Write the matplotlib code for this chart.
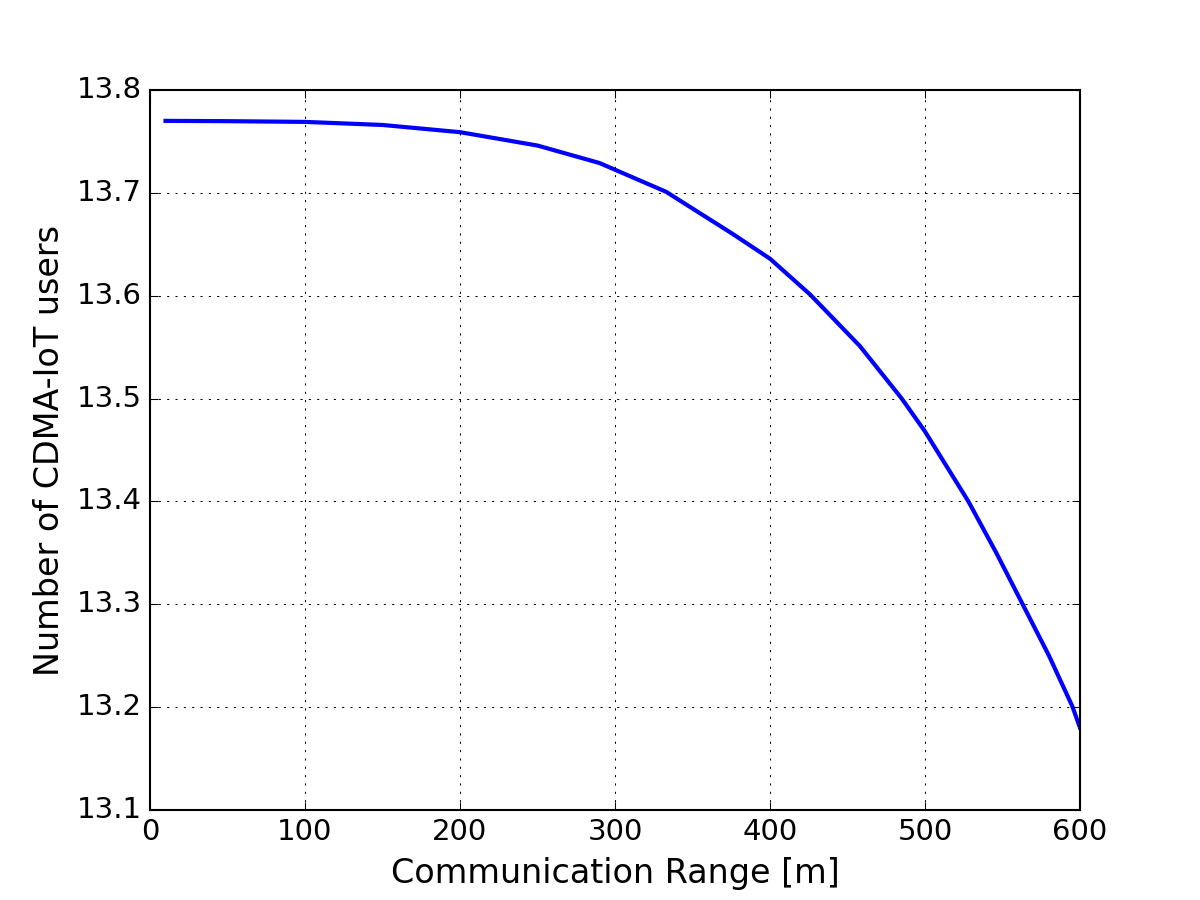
# coding:utf-8
import matplotlib
matplotlib.use('Agg')
import matplotlib.pyplot as plt

# values
comm_range = [10, 50, 100, 150, 200, 250, 290, 333, 376, 400, 426, 458,
              485, 500, 528, 546, 563, 580, 595, 600]
num_users = [13.7700, 13.7697, 13.7690, 13.7660, 13.7590, 13.7460, 13.7290,
             13.7010, 13.6600, 13.6360, 13.6010, 13.5510, 13.5000, 13.4680,
             13.4000, 13.3500, 13.3000, 13.2500, 13.2010, 13.1800]
xticks = [0, 100, 200, 300, 400, 500, 600]
yticks = [13.1, 13.2, 13.3, 13.4, 13.5, 13.6, 13.7, 13.8]

plt.style.use('classic')
plt.rcParams['font.family'] = ['DejaVu Sans']

fig = plt.figure(figsize=(8, 6), dpi=150)
ax = fig.add_subplot(111)
ax.plot(comm_range, num_users, 'b', linewidth=2, solid_joinstyle='round')
ax.set_xlim(0, 600)
ax.set_ylim(13.1, 13.8)
ax.set_xticks(xticks)
ax.set_yticks(yticks)
ax.ticklabel_format(useOffset=False, axis='y')
ax.tick_params(labelsize=14)
ax.grid(True)
ax.set_xlabel('Communication Range [m]', fontsize=16)
ax.set_ylabel('Number of CDMA-IoT users', fontsize=16)

fig.savefig('out.png', dpi=150, facecolor='white')
